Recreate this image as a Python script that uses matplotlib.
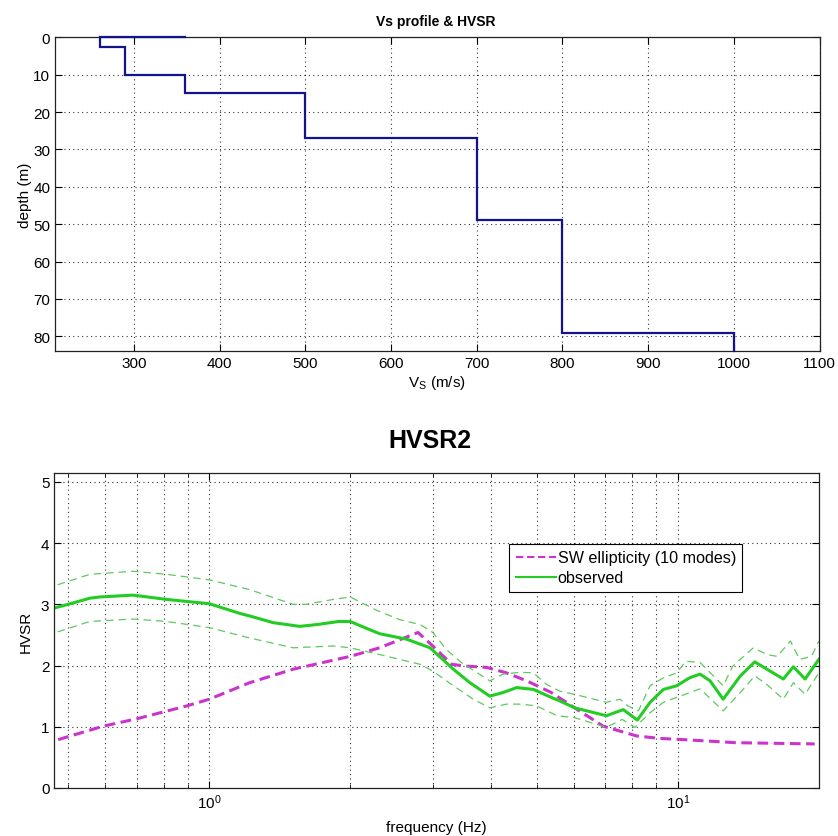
import numpy as np
import matplotlib
matplotlib.use("Agg")
import matplotlib.pyplot as plt
from matplotlib.ticker import LogLocator, NullFormatter, FixedLocator

plt.rcParams['font.family'] = ['Liberation Sans', 'DejaVu Sans']
plt.rcParams['mathtext.fontset'] = 'custom'
plt.rcParams['mathtext.rm'] = 'Liberation Sans'
plt.rcParams['mathtext.it'] = 'Liberation Sans:italic'
plt.rcParams['mathtext.bf'] = 'Liberation Sans:bold'

# ---- Vs profile data ----
vs_path = [360, 260, 260, 290, 290, 360, 360, 500, 500, 700, 700, 800, 800, 1000, 1000]
depth_path = [0, 0, 2.5, 2.5, 10, 10, 15, 15, 27, 27, 49, 49, 79, 79, 84]
vs_ticks = [300, 400, 500, 600, 700, 800, 900, 1000, 1100]
depth_ticks = [0, 10, 20, 30, 40, 50, 60, 70, 80]

# ---- HVSR data ----
f_model = [0.476, 0.594, 0.70, 0.895, 1.0, 1.22, 1.51, 2.0, 2.31, 2.79, 3.0, 3.29, 3.54,
           3.91, 4.31, 4.76, 5.37, 6.08, 6.93, 8.17, 9.15, 10.3, 13.3, 19.6]
hv_model = [0.79, 1.01, 1.13, 1.34, 1.45, 1.72, 1.94, 2.15, 2.29, 2.54, 2.32, 2.02, 1.99,
            1.97, 1.88, 1.75, 1.56, 1.29, 1.01, 0.85, 0.81, 0.79, 0.74, 0.72]

f_obs = [0.467, 0.50, 0.556, 0.584, 0.688, 0.811, 1.0, 1.164, 1.22, 1.37, 1.56, 1.70, 1.89,
         2.0, 2.10, 2.31, 2.64, 2.96, 3.32, 3.60, 3.97, 4.24, 4.53, 4.92, 5.37, 5.61, 6.02,
         7.04, 7.65, 8.20, 8.73, 9.32, 9.95, 10.6, 11.16, 11.72, 12.5, 13.6, 14.6, 15.5,
         16.8, 17.65, 18.7, 20.0]
hv_obs = [2.94, 3.00, 3.10, 3.12, 3.15, 3.08, 3.01, 2.85, 2.81, 2.70, 2.64, 2.67, 2.72,
          2.72, 2.65, 2.52, 2.43, 2.29, 1.94, 1.72, 1.50, 1.56, 1.64, 1.61, 1.48, 1.42, 1.31,
          1.18, 1.28, 1.11, 1.40, 1.61, 1.67, 1.80, 1.86, 1.75, 1.45, 1.83, 2.06, 1.94,
          1.78, 1.98, 1.78, 2.10]

f_up = [0.475, 0.556, 0.688, 0.811, 1.0, 1.22, 1.51, 1.61, 1.84, 2.0, 2.28, 2.55, 2.82,
        3.0, 3.21, 3.45, 3.77, 3.97, 4.24, 4.62, 4.92, 5.25, 5.61, 6.02, 7.04, 7.53, 7.83,
        8.24, 8.73, 9.32, 9.95, 10.4, 11.16, 12.5, 13.1, 14.5, 15.5, 16.3, 17.4, 18.2,
        19.3, 20.0]
hv_up = [3.32, 3.49, 3.54, 3.49, 3.40, 3.24, 3.00, 3.00, 3.08, 3.12, 2.90, 2.75, 2.67,
         2.54, 2.26, 2.05, 1.86, 1.75, 1.86, 1.89, 1.88, 1.69, 1.58, 1.53, 1.40, 1.45, 1.34,
         1.26, 1.67, 1.80, 1.88, 2.07, 2.05, 1.67, 1.99, 2.29, 2.18, 2.15, 2.40, 2.10,
         2.15, 2.40]

f_lo = [0.475, 0.556, 0.688, 0.811, 1.0, 1.22, 1.51, 1.84, 2.0, 2.31, 2.55, 2.82, 3.0,
        3.32, 3.66, 3.97, 4.31, 4.62, 5.0, 5.53, 6.02, 7.04, 7.61, 8.1, 8.73, 9.32, 9.95,
        11.16, 12.5, 13.6, 14.6, 15.5, 16.8, 17.65, 18.7, 20.0]
hv_lo = [2.55, 2.72, 2.76, 2.72, 2.62, 2.45, 2.29, 2.32, 2.29, 2.18, 2.10, 2.02, 1.91,
         1.67, 1.45, 1.31, 1.37, 1.37, 1.34, 1.18, 1.15, 0.99, 1.12, 0.99, 1.23, 1.40, 1.48,
         1.62, 1.26, 1.56, 1.83, 1.69, 1.45, 1.72, 1.53, 1.88]

hv_ticks = [0, 1, 2, 3, 4, 5]

W, H = 838, 837
fig = plt.figure(figsize=(W / 100, H / 100), dpi=100)

# ---------- top axes ----------
ax1 = fig.add_axes([55 / W, 1 - 352.3 / H, 764.5 / W, 314 / H])
ax1.plot(vs_path, depth_path, color='#14148a', lw=1.6, solid_joinstyle='miter',
         clip_on=False, zorder=5)
ax1.set_xlim(208, 1100)
ax1.set_ylim(84, 0)
ax1.set_xticks(vs_ticks)
ax1.set_yticks(depth_ticks)
ax1.grid(True, linestyle=(0, (1, 3)), color='k', lw=0.8, alpha=0.8)
ax1.set_xlabel(r'V$_\mathrm{S}$ (m/s)', fontsize=11, labelpad=2)
ax1.set_ylabel('depth (m)', fontsize=11, labelpad=1)
fig.text(436 / W, 1 - 26 / H, 'Vs profile & HVSR', ha='center', va='baseline',
         fontsize=10, fontweight='bold')

# ---------- bottom axes ----------
ax2 = fig.add_axes([54.3 / W, 1 - 789 / H, 765 / W, 314.7 / H])
ax2.plot(f_model, hv_model, color='#cc33cc', lw=2.2, ls=(0, (3.5, 1.8)),
         label='SW ellipticity (10 modes)')
ax2.plot(f_obs, hv_obs, color='#22cc22', lw=2.2, label='observed')
ax2.plot(f_up, hv_up, color='#5ec95e', lw=0.9, ls=(0, (6, 4)))
ax2.plot(f_lo, hv_lo, color='#5ec95e', lw=0.9, ls=(0, (6, 4)))
ax2.set_xscale('log')
ax2.set_xlim(0.467, 20.05)
ax2.set_ylim(0, 5.14)
ax2.set_yticks(hv_ticks)
ax2.xaxis.set_major_locator(FixedLocator([1, 10]))
ax2.xaxis.set_minor_locator(LogLocator(base=10, subs=np.arange(2, 10), numticks=20))
ax2.xaxis.set_minor_formatter(NullFormatter())
ax2.set_xticklabels([r'$\mathregular{10^{0}}$', r'$\mathregular{10^{1}}$'])
ax2.grid(True, which='both', linestyle=(0, (1, 3)), color='k', lw=0.8, alpha=0.8)
ax2.set_xlabel('frequency (Hz)', fontsize=11, labelpad=6)
ax2.set_ylabel('HVSR', fontsize=11, labelpad=6)
fig.text(430 / W, 1 - 448.3 / H, 'HVSR2', ha='center', va='baseline',
         fontsize=18, fontweight='bold')

leg = ax2.legend(loc='upper left', bbox_to_anchor=((509.3 - 54.3) / 765, (789 - 545) / 314.7),
                 borderaxespad=0, fontsize=11.6, frameon=True, fancybox=False,
                 edgecolor='k', framealpha=1, handlelength=2.5, handletextpad=0.1,
                 labelspacing=0.3, borderpad=0.4)
leg.get_frame().set_linewidth(0.8)
for lh in leg.get_lines():
    lh.set_linewidth(1.5)

for ax in (ax1, ax2):
    ax.tick_params(which='major', direction='in', top=True, right=True, length=5,
                   labelsize=11, width=0.8)
    ax.tick_params(which='minor', direction='in', top=True, right=True, length=3, width=0.6)
    for s in ax.spines.values():
        s.set_linewidth(0.9)
        s.set_color('#222222')
    ax.set_axisbelow(True)

fig.savefig('out.png', dpi=100)
